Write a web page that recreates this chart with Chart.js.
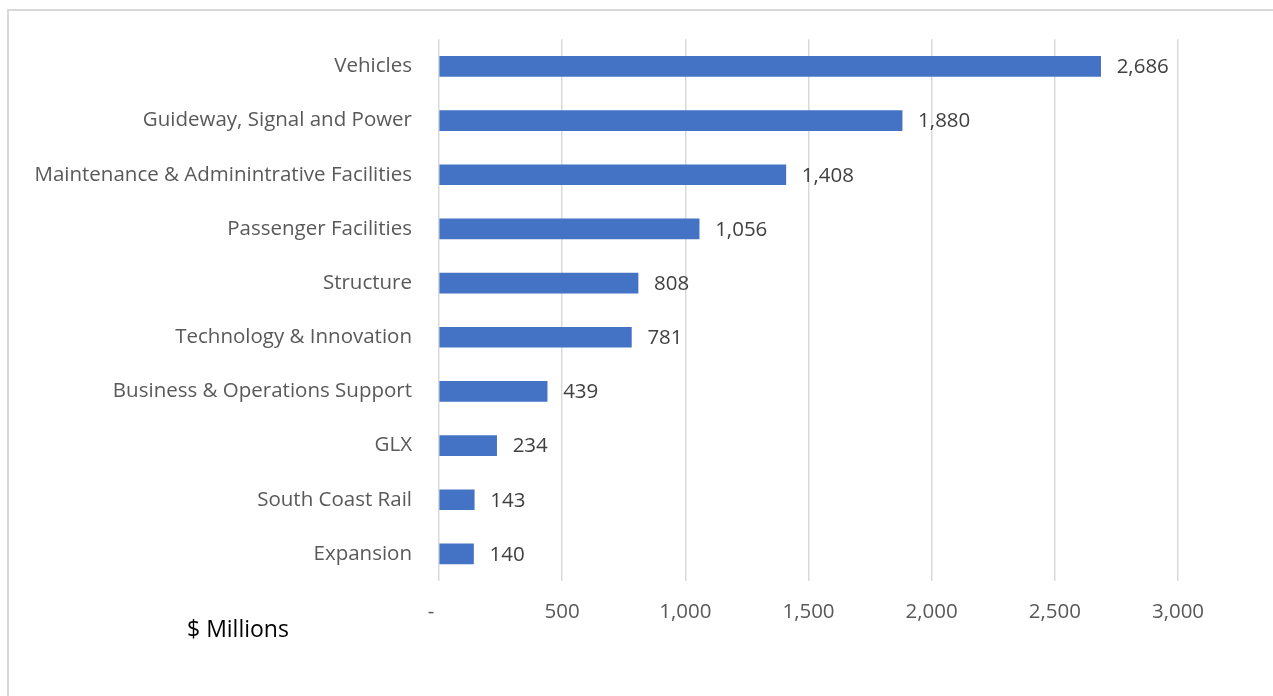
<!DOCTYPE html>
<html>
<head>
<meta charset="utf-8">
<script src="https://cdn.jsdelivr.net/npm/chart.js@4"></script>
<style>
  html, body { margin: 0; padding: 0; background: #fff; overflow: hidden; }
  #wrap { position: relative; width: 1273px; height: 696px; }
  #frame {
    position: absolute; left: 7px; top: 9px; width: 1300px; height: 720px;
    border: 2px solid #d9d9d9; box-sizing: border-box; pointer-events: none;
  }
  #unit {
    position: absolute; left: 187px; top: 612px;
    font-family: "Open Sans", "Noto Sans", sans-serif; font-size: 23px; color: #000;
  }
</style>
</head>
<body>
<div id="wrap">
  <canvas id="costChart" width="1273" height="696"></canvas>
  <div id="frame"></div>
  <div id="unit">$ Millions</div>
</div>
<script>
// categories and values (top to bottom)
const categories = [
  "Vehicles",
  "Guideway, Signal and Power",
  "Maintenance & Adminintrative Facilities",
  "Passenger Facilities",
  "Structure",
  "Technology & Innovation",
  "Business & Operations Support",
  "GLX",
  "South Coast Rail",
  "Expansion"
];
const spendValues = [2686, 1880, 1408, 1056, 808, 781, 439, 234, 143, 140];
const tickValues = [0, 500, 1000, 1500, 2000, 2500, 3000];

const FONT = "'Open Sans', 'Noto Sans', sans-serif";

// accounting style: zero shows as a dash sitting a bit left of the tick
function formatNumber(v, isTick) {
  if (v === 0) return isTick ? "-   " : "-";
  return v.toLocaleString("en-US");
}

// draws value labels just past the end of each bar
const valueLabelPlugin = {
  id: "valueLabels",
  afterDatasetsDraw(chart) {
    const ctx = chart.ctx;
    const meta = chart.getDatasetMeta(0);
    ctx.save();
    ctx.font = "20.5px " + FONT;
    ctx.fillStyle = "#404040";
    ctx.textAlign = "left";
    ctx.textBaseline = "middle";
    meta.data.forEach((bar, i) => {
      ctx.fillText(formatNumber(spendValues[i], false), bar.x + 16, bar.y + 1);
    });
    ctx.restore();
  }
};

new Chart(document.getElementById("costChart"), {
  type: "bar",
  data: {
    labels: categories,
    datasets: [
      {
        data: spendValues,
        backgroundColor: "#4472c4",
        borderWidth: 0,
        barThickness: 20
      }
    ]
  },
  options: {
    indexAxis: "y",
    responsive: false,
    animation: false,
    layout: { padding: { top: 39, right: 95, bottom: 0, left: 0 } },
    plugins: {
      legend: { display: false },
      tooltip: { enabled: false }
    },
    scales: {
      x: {
        min: 0,
        max: 3000,
        afterBuildTicks: scale => {
          scale.ticks = tickValues.map(v => ({ value: v }));
        },
        afterFit: scale => { scale.height = 115; },
        border: { display: false },
        grid: { color: "#d9d9d9", lineWidth: 1.5, drawTicks: false },
        ticks: {
          padding: 19,
          color: "#595959",
          font: { family: FONT, size: 20.5 },
          callback: v => formatNumber(v, true)
        }
      },
      y: {
        afterFit: scale => { scale.width = 439; },
        border: { display: false },
        grid: { display: false, drawTicks: false },
        ticks: {
          padding: 27,
          color: "#595959",
          font: { family: FONT, size: 20.5 }
        }
      }
    }
  },
  plugins: [valueLabelPlugin]
});
</script>
</body>
</html>
